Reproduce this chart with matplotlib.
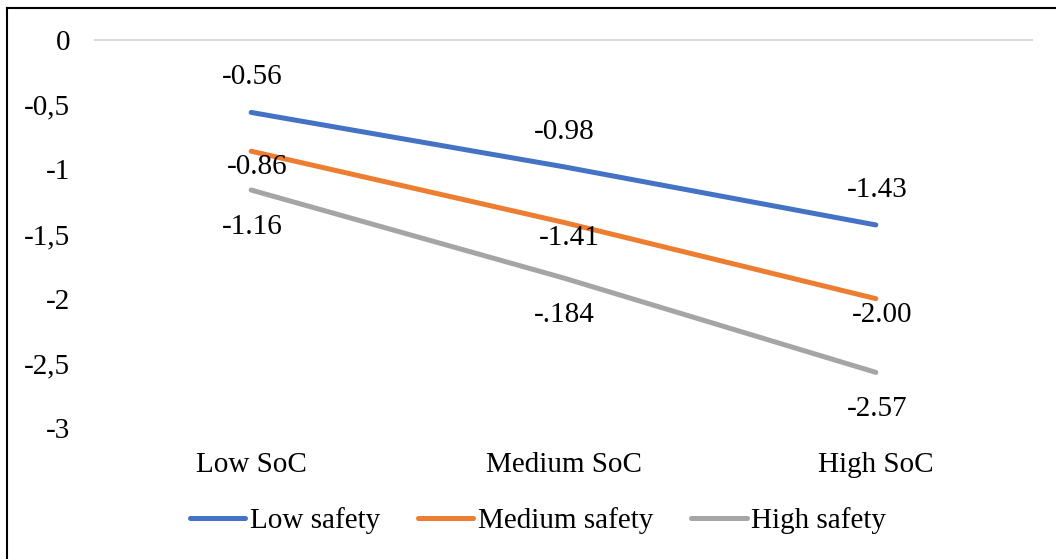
import matplotlib
matplotlib.use("Agg")
import matplotlib.pyplot as plt
from matplotlib.lines import Line2D

plt.rcParams["font.family"] = ["Liberation Serif", "DejaVu Serif"]

categories = ["Low SoC", "Medium SoC", "High SoC"]
series_names = ["Low safety", "Medium safety", "High safety"]
low_safety = [-0.56, -0.98, -1.43]
medium_safety = [-0.86, -1.41, -2.00]
high_safety = [-1.16, -1.84, -2.57]
value_labels = {
    "Low safety": ["-0.56", "-0.98", "-1.43"],
    "Medium safety": ["-0.86", "-1.41", "-2.00"],
    "High safety": ["-1.16", "-.184", "-2.57"],
}
y_ticks = [0, -0.5, -1, -1.5, -2, -2.5, -3]
y_tick_labels = ["0", "-0,5", "-1", "-1,5", "-2", "-2,5", "-3"]

colors = {"Low safety": "#4472C4", "Medium safety": "#ED7D31", "High safety": "#A5A5A5"}
# label offsets in pixels (dx, dy) relative to each point
label_offsets = {"Low safety": (1, 35), "Medium safety": (6, -16), "High safety": (1, -37)}

W, H = 1056, 559
fig = plt.figure(figsize=(W / 100, H / 100), dpi=100)
ax = fig.add_axes([95 / W, 1 - 428 / H, 937 / W, 388 / H])

x = list(range(len(categories)))
data = {"Low safety": low_safety, "Medium safety": medium_safety, "High safety": high_safety}
for name in series_names:
    ax.plot(x, data[name], color=colors[name], lw=3.6, solid_capstyle="round",
            label=name, zorder=3)
    dx, dy = label_offsets[name]
    for xi, yi, txt in zip(x, data[name], value_labels[name]):
        ax.annotate(txt, (xi, yi), xytext=(dx, dy), textcoords="offset pixels",
                    ha="center", va="center", fontsize=21, zorder=4)

ax.axhline(0, color="#D9D9D9", lw=1.5, zorder=1, clip_on=False)

ax.set_xlim(-0.5, 2.5)
ax.set_ylim(-3, 0)
ax.set_xticks(x)
ax.set_xticklabels(categories, fontsize=21)
ax.set_yticks(y_ticks)
ax.set_yticklabels(y_tick_labels, fontsize=21)
ax.tick_params(axis="x", length=0, pad=17)
ax.tick_params(axis="y", length=0, pad=18)
for s in ax.spines.values():
    s.set_visible(False)
ax.patch.set_alpha(0)

leg = fig.legend(loc="center", bbox_to_anchor=(538 / W, 1 - 521 / H), ncol=3,
                 frameon=False, fontsize=21, handlelength=1.9, handletextpad=0.15,
                 columnspacing=1.3, borderpad=0)
for h in leg.get_lines():
    h.set_linewidth(3.6)
    h.set_solid_capstyle("round")

# outer frame (continues past the right and bottom edges)
fig.add_artist(Line2D([6.5 / W, 1.0], [1 - 8 / H, 1 - 8 / H], color="black", lw=1.5,
                      transform=fig.transFigure))
fig.add_artist(Line2D([6.5 / W, 6.5 / W], [1 - 8 / H, 0.0], color="black", lw=1.5,
                      transform=fig.transFigure))

fig.savefig("out.png", dpi=100, facecolor="white")
